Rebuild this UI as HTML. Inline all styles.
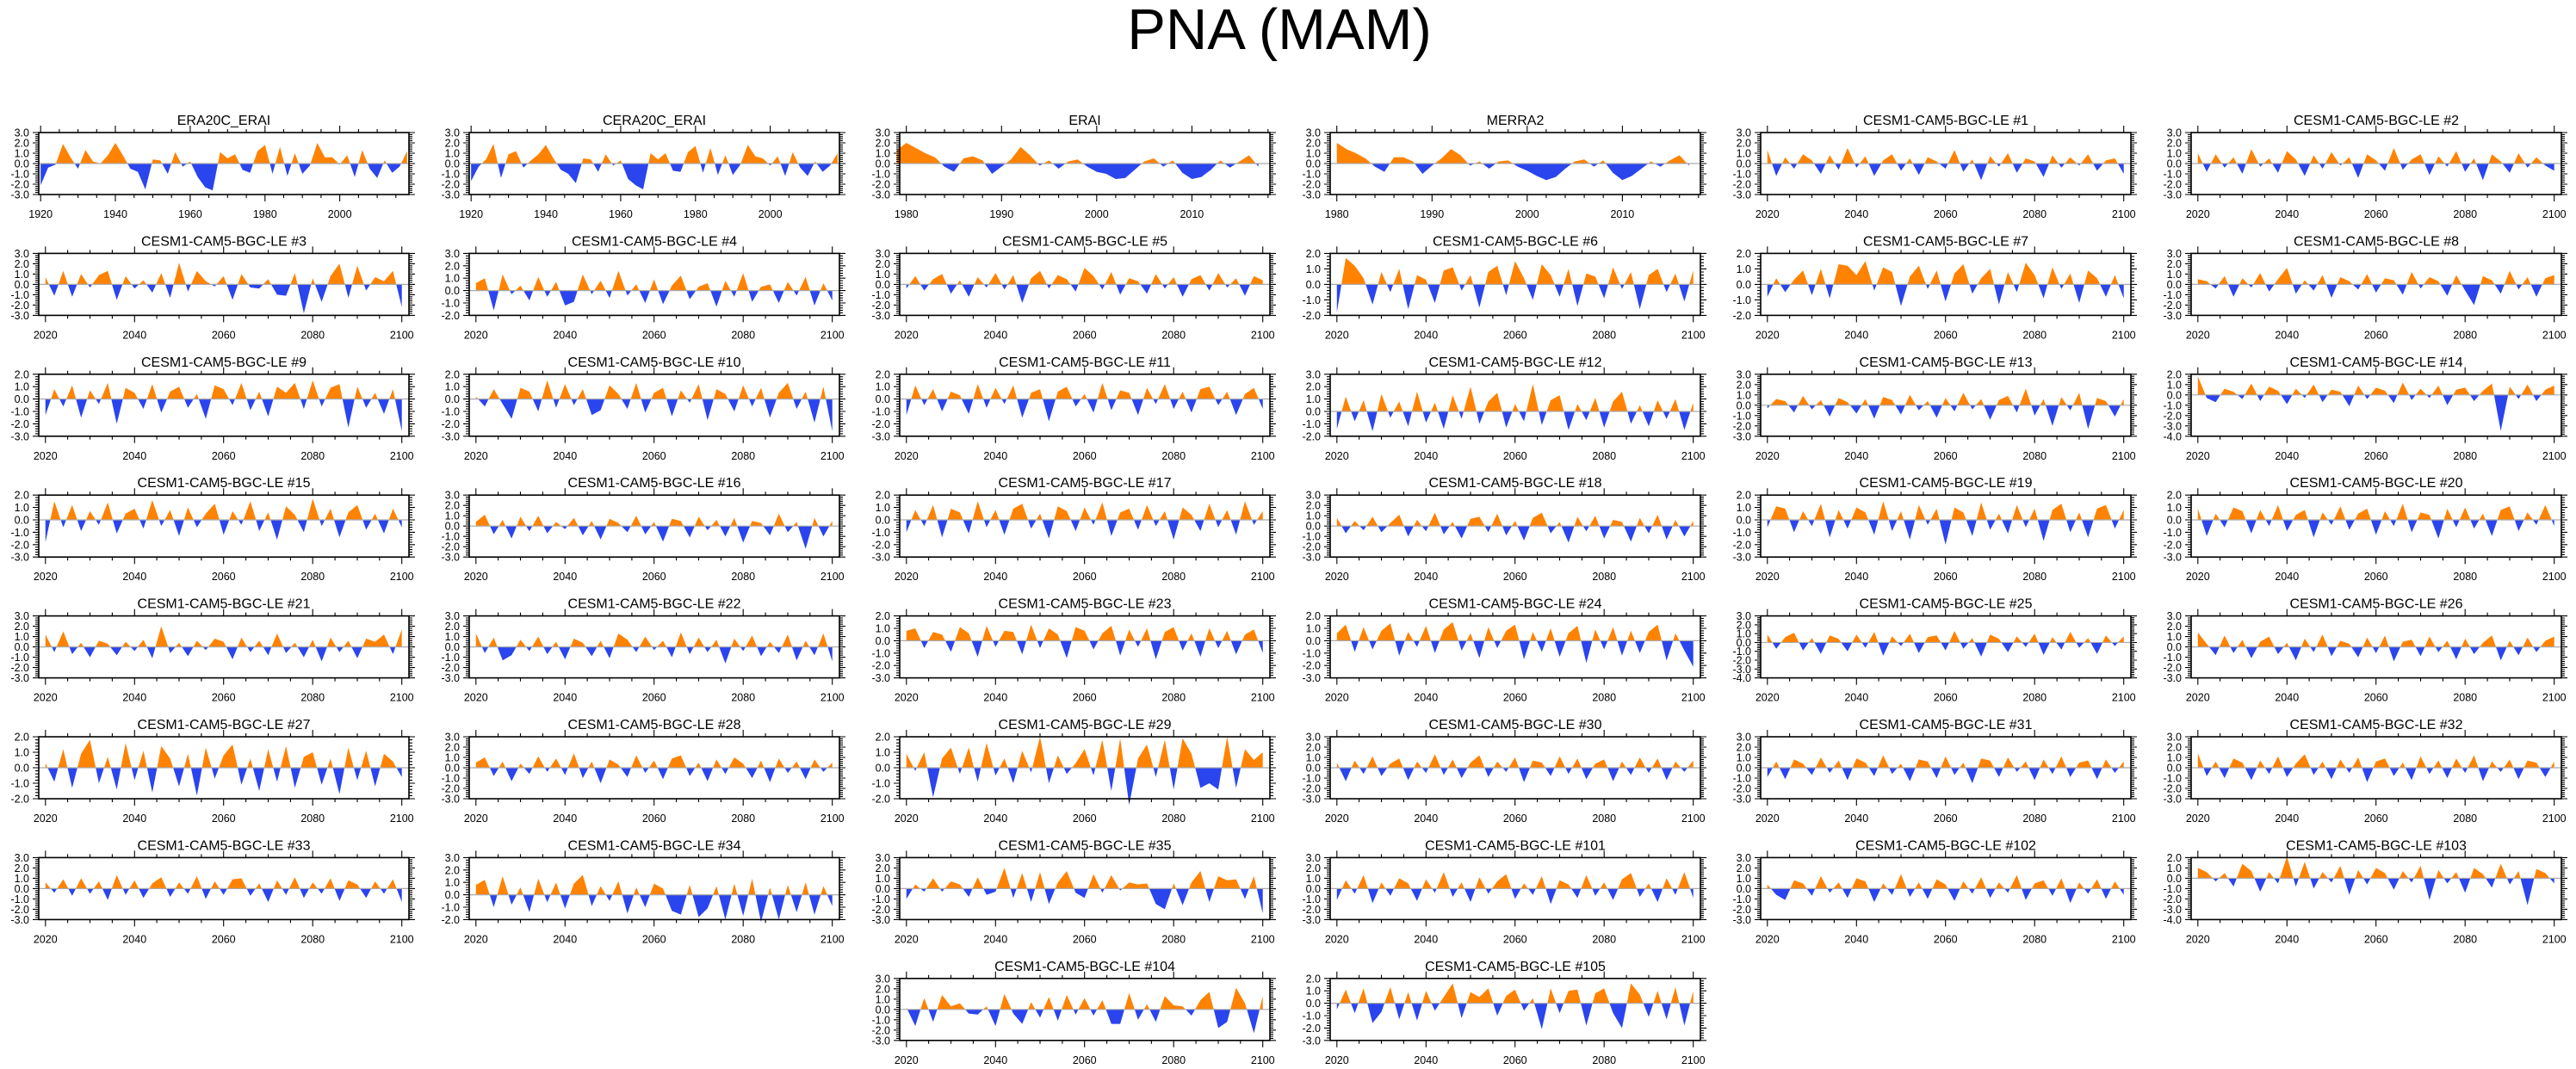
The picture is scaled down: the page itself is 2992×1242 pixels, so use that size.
<!DOCTYPE html>
<html><head><meta charset="utf-8"><title>PNA (MAM)</title>
<style>
html,body{margin:0;padding:0;background:#fff;}
svg{display:block;font-family:"Liberation Sans",Arial,sans-serif;}
</style></head>
<body>
<svg id="chart" width="2992" height="1242" viewBox="0 0 2992 1242" xmlns="http://www.w3.org/2000/svg">
<rect width="2992" height="1242" fill="#fff"/>
<text x="1486" y="57" font-size="67" text-anchor="middle" fill="#000">PNA (MAM)</text>
<g id="panels"></g>
</svg>
<script>
// ---- data ----
const titles = ["ERA20C_ERAI","CERA20C_ERAI","ERAI","MERRA2",
"CESM1-CAM5-BGC-LE #1","CESM1-CAM5-BGC-LE #2","CESM1-CAM5-BGC-LE #3","CESM1-CAM5-BGC-LE #4","CESM1-CAM5-BGC-LE #5","CESM1-CAM5-BGC-LE #6","CESM1-CAM5-BGC-LE #7","CESM1-CAM5-BGC-LE #8",
"CESM1-CAM5-BGC-LE #9","CESM1-CAM5-BGC-LE #10","CESM1-CAM5-BGC-LE #11","CESM1-CAM5-BGC-LE #12","CESM1-CAM5-BGC-LE #13","CESM1-CAM5-BGC-LE #14",
"CESM1-CAM5-BGC-LE #15","CESM1-CAM5-BGC-LE #16","CESM1-CAM5-BGC-LE #17","CESM1-CAM5-BGC-LE #18","CESM1-CAM5-BGC-LE #19","CESM1-CAM5-BGC-LE #20",
"CESM1-CAM5-BGC-LE #21","CESM1-CAM5-BGC-LE #22","CESM1-CAM5-BGC-LE #23","CESM1-CAM5-BGC-LE #24","CESM1-CAM5-BGC-LE #25","CESM1-CAM5-BGC-LE #26",
"CESM1-CAM5-BGC-LE #27","CESM1-CAM5-BGC-LE #28","CESM1-CAM5-BGC-LE #29","CESM1-CAM5-BGC-LE #30","CESM1-CAM5-BGC-LE #31","CESM1-CAM5-BGC-LE #32",
"CESM1-CAM5-BGC-LE #33","CESM1-CAM5-BGC-LE #34","CESM1-CAM5-BGC-LE #35","CESM1-CAM5-BGC-LE #101","CESM1-CAM5-BGC-LE #102","CESM1-CAM5-BGC-LE #103",
"CESM1-CAM5-BGC-LE #104","CESM1-CAM5-BGC-LE #105"];
const yTop = [3,3,3,3,3,3, 3,3,3,2,2,3, 2,2,2,3,3,2, 2,3,2,3,2,2, 3,3,2,2,3,3, 2,3,2,3,3,3, 3,3,3,3,3,2, 3,2];
const yBot = [-3,-3,-3,-3,-3,-3, -3,-2,-3,-2,-2,-3, -3,-3,-3,-2,-3,-4, -3,-3,-3,-3,-3,-3, -3,-3,-3,-3,-4,-3, -2,-3,-2,-3,-3,-3, -3,-2,-3,-3,-3,-4, -3,-3];
const reanStart = [1920,1920,1979,1980];
const reanStep = [2,2,1,1];
const s_era20c = [-2.1,-0.4,-0.1,1.9,0.6,-0.5,1.3,0.2,0.0,0.8,2.0,0.8,-0.5,-0.8,-2.5,0.4,0.3,-1.0,1.1,-0.3,0.2,-1.3,-2.3,-2.6,1.1,0.5,0.9,-0.6,-0.9,1.2,1.8,-1.0,1.6,-1.2,1.0,-1.0,-0.2,2.0,0.6,0.6,-0.1,0.8,-1.3,1.3,-0.5,-1.4,0.3,-0.9,-0.3,1.2];
const s_cera20c = [-1.7,-0.3,0.4,1.9,-1.4,0.9,1.2,-0.4,0.3,0.9,1.8,0.5,-0.6,-1.0,-1.9,0.5,0.4,-0.8,0.9,-0.2,0.3,-1.5,-2.1,-2.5,1.0,0.4,1.0,-0.7,-0.8,1.1,1.7,-0.9,1.5,-1.1,0.8,-1.1,-0.1,1.8,0.7,0.5,-0.2,0.7,-1.2,1.1,-0.4,-1.2,0.2,-0.8,-0.2,1.0];
const s_erai = [1.3,2.0,1.5,1.0,0.6,-0.3,-0.8,0.5,0.7,0.3,-1.0,-0.3,0.4,1.6,0.8,-0.2,0.3,-0.5,0.2,0.4,-0.3,-0.8,-1.0,-1.5,-1.4,-0.6,0.2,0.5,-0.3,0.3,-0.9,-1.5,-1.3,-0.6,0.3,-0.4,0.2,0.8,-0.3];
const s_merra2 = [2.0,1.4,1.0,0.5,-0.3,-0.8,0.6,0.6,0.2,-1.0,-0.2,0.5,1.4,0.8,-0.2,0.2,-0.5,0.2,0.3,-0.3,-0.7,-1.2,-1.6,-1.3,-0.5,0.2,0.4,-0.3,0.3,-0.9,-1.6,-1.2,-0.5,0.2,-0.3,0.3,0.8,-0.2];
const le = [
[1.3,-1.2,0.6,-0.5,0.9,0.3,-1.0,0.8,-0.6,1.5,-0.4,0.7,-1.2,0.3,0.9,-0.7,0.5,-1.1,0.6,0.2,-0.5,1.3,-0.8,0.4,-1.6,0.7,-0.3,1.0,-0.9,0.5,0.2,-1.3,0.8,-0.4,0.6,-0.2,0.9,-0.7,0.3,0.5,-1.0],
[1.0,-0.8,0.9,-0.4,0.6,-1.0,1.4,-0.3,0.5,-0.9,1.2,0.4,-1.2,0.8,-0.5,1.1,-0.2,0.6,-1.4,0.9,0.3,-0.7,1.5,-0.6,0.4,0.9,-1.1,0.7,-0.3,1.2,-0.8,0.5,-1.6,0.9,0.2,-0.9,1.0,-0.4,0.6,-0.2,-0.7],
[0.7,-1.1,1.3,-1.2,1.0,-0.3,0.9,1.3,-1.5,0.8,-0.4,0.4,-0.8,1.1,-1.3,2.1,-0.7,1.3,0.3,-0.2,0.8,-1.5,1.0,-0.3,-0.4,0.5,-1.0,-1.1,1.1,-2.8,0.6,-1.7,0.8,2.0,-1.3,1.8,-0.6,0.7,0.3,1.3,-2.2],
[0.6,1.0,-1.6,1.3,-0.3,0.4,-0.8,1.1,-0.5,0.7,-1.2,-0.9,1.3,-0.3,0.8,-0.6,1.6,-0.4,0.5,-1.0,0.9,-1.1,0.4,1.2,-0.7,0.3,0.6,-1.3,0.8,-0.5,1.4,-0.9,0.3,0.5,-1.0,0.7,-0.4,1.1,-1.2,0.6,-0.8],
[-0.4,0.8,-0.6,0.5,1.0,-0.9,0.4,-1.2,0.7,-0.3,1.1,-0.5,0.9,-1.8,0.6,1.3,-0.4,0.9,0.5,-0.7,1.6,0.8,-0.5,1.2,-1.0,0.6,0.3,-0.9,1.0,-0.4,0.7,-1.2,0.5,0.9,-0.6,1.1,-0.3,0.6,-1.1,0.8,0.4],
[-1.8,1.7,1.2,0.4,-1.3,0.8,-0.5,1.0,-1.6,0.6,0.3,-1.2,0.9,1.1,-0.4,0.6,-1.5,0.8,1.2,-0.7,1.5,0.4,-1.0,1.3,0.6,-0.8,1.0,-1.4,0.7,0.5,-0.9,1.1,-0.3,0.8,-1.6,0.6,1.0,-0.5,0.7,-1.1,0.9],
[-0.8,0.4,-0.5,0.3,0.9,-0.7,1.0,-0.9,1.3,1.2,0.6,1.5,-0.4,1.1,0.8,-1.4,0.5,1.2,-0.3,0.9,-1.1,0.7,1.3,-0.6,0.4,1.0,-1.3,0.8,-0.5,1.4,0.6,-0.9,1.1,-0.3,0.7,-1.2,0.9,0.4,-0.8,0.6,-0.9],
[0.5,0.3,-0.4,0.8,-1.2,0.6,-0.3,1.1,-0.7,0.5,1.6,-0.9,0.4,-0.6,0.9,-1.3,0.7,0.3,-0.5,1.0,-0.8,0.6,0.4,-1.0,1.2,-0.4,0.7,0.3,-1.1,0.9,-0.6,-2.0,0.8,0.4,-0.9,1.3,-0.5,0.7,-1.2,0.6,0.9],
[-1.3,0.8,-0.6,1.1,-1.5,0.7,-0.4,1.3,-2.0,0.9,0.5,-0.8,1.2,-1.1,0.6,1.0,-0.7,0.4,-1.6,1.1,0.8,-0.5,1.3,-0.9,0.6,-1.4,1.0,0.5,1.3,-0.8,1.5,-0.6,0.9,1.2,-2.3,1.0,-0.7,0.5,-1.2,0.8,-2.6],
[0.2,-0.6,0.8,-0.4,-1.6,0.9,0.6,-1.0,1.5,-0.7,1.2,-0.5,0.8,-1.3,-0.9,1.1,0.4,-0.8,1.3,-1.1,0.5,0.9,-1.4,0.7,-0.3,1.2,-1.7,0.8,0.4,-1.0,1.1,-0.6,0.9,-1.5,0.5,1.3,-0.8,0.6,-1.9,1.0,-2.6],
[-1.3,1.1,-0.5,0.8,-1.0,0.6,0.3,-1.2,1.2,-0.7,0.9,-0.4,1.1,-1.5,0.5,0.8,-1.8,0.6,1.0,-0.6,0.4,-1.1,1.3,-0.9,0.7,0.5,-1.3,0.9,-0.4,1.2,-0.8,0.6,-1.1,0.8,1.0,-0.5,0.6,-1.3,0.4,0.9,-0.8],
[-1.4,1.2,-0.8,0.9,-1.6,1.4,-0.5,0.8,-1.2,1.6,-0.9,0.7,-1.4,1.3,-0.6,2.0,-1.0,0.8,1.5,-1.3,0.6,-0.8,2.2,-1.1,0.9,1.3,-1.5,0.6,-0.7,1.1,-1.3,0.8,1.6,-1.0,0.5,-1.2,0.9,-0.6,1.0,-1.5,0.7],
[-0.3,0.6,0.4,-0.7,0.9,-0.4,0.5,-1.1,0.7,0.3,-0.8,0.6,-1.3,0.8,0.5,-0.9,1.0,-0.5,0.4,-1.2,0.7,-0.6,1.2,-0.4,0.6,-1.4,0.5,0.9,-0.7,1.6,-1.0,0.6,-2.0,0.8,-0.5,1.2,-2.3,0.7,0.4,-1.1,0.6],
[1.8,-0.3,-0.7,0.6,0.3,-0.4,1.1,-0.6,0.8,0.4,-0.9,0.6,-0.3,1.0,-0.7,0.5,0.3,-1.1,0.9,-0.4,0.7,0.4,-0.8,1.2,-0.5,0.6,-0.3,0.9,-1.0,0.5,0.7,-0.6,0.4,1.1,-3.5,0.8,-0.4,1.0,-0.6,0.5,0.9],
[-1.8,1.5,-0.6,1.2,-0.9,0.7,-0.4,1.4,-1.1,0.5,0.9,-0.7,1.6,-0.5,0.8,-1.3,1.0,-0.6,0.5,1.3,-1.2,0.7,-0.4,1.5,-0.9,0.6,-1.6,1.1,0.4,-1.0,1.7,-0.5,0.9,-1.4,0.6,1.2,-0.8,0.5,-1.1,0.9,-0.6],
[0.4,1.1,-0.8,0.6,-1.2,0.9,-0.5,1.0,-0.7,0.4,-0.3,0.8,-0.9,0.5,-1.3,0.7,0.3,-0.6,1.0,-0.8,0.4,-1.5,0.7,0.5,-1.1,0.9,-0.4,0.6,-1.0,0.8,-1.6,0.5,0.3,-0.9,1.2,-0.6,0.4,-2.2,0.8,-1.0,0.5],
[-1.0,0.8,-0.5,1.2,-1.4,0.9,0.6,-1.1,1.5,-0.6,0.8,-1.2,0.9,1.3,-0.7,0.5,-1.5,1.1,0.7,-0.9,1.0,-0.4,1.4,-1.3,0.6,0.9,-0.8,1.2,-0.5,0.7,-1.6,1.0,0.4,-0.9,1.3,-0.6,0.8,-1.2,1.5,-0.4,0.7],
[0.8,-0.7,0.5,-0.4,0.9,-0.6,0.3,1.1,-1.0,0.6,-0.5,1.3,-0.8,0.4,-1.2,0.7,0.9,-0.6,1.2,-0.9,0.5,-1.4,0.8,1.3,-0.7,0.4,-1.6,0.9,-0.5,1.0,-1.2,0.6,0.4,-1.5,0.8,-0.7,1.1,-1.3,0.6,-1.0,0.5],
[-0.6,1.1,0.9,-1.0,0.7,-0.5,1.3,-1.4,0.8,-0.7,1.0,0.6,-1.2,1.5,-0.9,0.7,-1.6,1.2,-0.4,0.9,-2.0,1.0,0.6,-1.3,1.4,-0.8,0.5,-1.1,1.2,-0.6,0.9,-1.7,0.8,1.3,-1.0,0.6,-1.4,0.9,1.2,-0.7,0.8],
[0.9,-1.3,0.5,-0.6,1.0,0.7,-1.1,0.8,-0.5,1.2,-0.9,0.4,0.8,-1.4,0.6,-0.4,1.1,-0.8,0.5,0.9,-1.2,0.7,-0.5,1.3,-1.0,0.6,0.4,-1.5,0.9,-0.6,1.0,-0.7,0.5,-1.3,0.8,1.1,-0.9,0.6,-0.4,1.2,-0.5],
[1.2,-0.5,1.5,-0.7,0.4,-1.0,0.6,0.3,-0.8,0.5,-0.4,0.7,-1.1,2.0,-0.6,0.4,-0.9,0.6,-0.3,0.8,0.5,-1.2,0.9,-0.5,0.6,-0.8,1.3,-0.6,0.4,-1.0,0.7,-1.4,0.9,-0.5,0.6,-1.1,0.8,0.5,1.2,-0.7,1.7],
[1.3,-0.6,0.9,-1.3,-0.8,0.7,-0.4,1.0,-0.7,0.5,-1.2,0.8,0.4,-0.9,0.6,-1.1,1.3,0.7,-0.5,1.0,-0.3,0.6,-1.0,1.4,-0.7,0.9,-0.5,0.7,-1.6,0.8,-0.4,1.1,-0.9,0.5,-0.6,1.2,-1.3,0.6,-0.8,1.3,-1.4],
[0.8,1.0,-0.6,0.7,0.5,-0.9,1.1,0.6,-1.3,1.2,-0.5,0.8,0.7,-1.1,1.3,-0.6,1.0,0.5,-1.4,1.1,0.8,-0.7,0.6,1.2,-1.2,0.9,-0.5,1.0,-1.5,0.7,1.1,-0.8,0.6,-1.3,1.0,-0.6,0.8,-1.1,0.5,0.9,-1.0],
[0.6,1.3,-0.9,1.1,-0.7,0.8,1.4,-1.2,0.7,-0.5,1.2,-1.0,0.9,1.5,-0.8,0.6,-1.4,1.1,-0.6,0.8,1.3,-1.5,0.7,-0.9,1.0,-1.3,0.6,1.2,-1.8,0.9,-0.7,1.1,-1.2,0.8,-1.0,0.7,1.3,-1.6,0.6,-0.8,-2.1],
[0.9,-0.7,0.6,1.1,-0.9,0.5,-1.3,0.8,0.4,-1.0,0.9,-0.6,1.2,-1.5,0.7,-0.4,1.0,-1.2,0.6,0.8,-0.9,1.3,-0.7,0.5,-1.6,0.9,0.4,-1.1,0.7,-0.5,1.0,-1.4,0.6,-0.8,1.2,-0.6,0.5,-1.3,0.8,-0.4,0.7],
[1.4,0.3,-0.8,1.1,-0.6,0.7,-1.1,0.5,1.0,-0.7,0.4,-1.3,0.8,-0.5,1.2,-0.9,0.6,0.3,-1.0,0.9,-0.6,1.1,-1.4,0.5,0.7,-0.9,1.0,-0.5,0.6,-1.2,0.8,-0.7,0.4,1.1,-1.3,0.6,-0.8,0.9,-0.5,0.6,1.0],
[0.3,-0.9,1.2,-1.3,0.9,1.8,-1.0,0.7,-1.4,1.6,-0.8,1.1,-1.6,1.4,0.6,-1.2,0.9,-1.8,1.3,-0.7,0.8,1.5,-1.1,0.6,-1.5,1.2,-0.9,1.4,-1.3,0.7,1.0,-1.1,0.6,-1.7,1.3,-0.8,1.1,-1.2,0.9,0.4,-0.6],
[0.5,1.0,-0.8,0.6,-1.3,0.4,-0.6,1.1,-0.4,0.9,-0.7,1.4,-1.0,0.6,-1.5,0.8,0.3,-0.9,1.2,-0.5,0.7,-1.1,0.9,1.2,-0.8,0.5,-1.3,0.8,-0.6,1.0,0.4,-1.0,0.7,-1.4,0.9,-0.5,0.6,-1.1,0.8,-0.4,0.5],
[0.9,-0.2,1.0,-1.9,0.6,1.3,-0.4,1.3,-0.9,1.6,-0.5,0.6,-1.0,1.1,-0.3,2.0,-1.0,0.8,-0.4,0.3,1.2,-0.5,1.8,-1.5,1.9,-2.4,0.6,1.5,-0.6,1.8,-1.4,1.9,0.9,-1.3,-1.0,-1.4,2.0,-1.3,1.2,0.5,1.0],
[0.5,-1.3,0.7,-0.6,1.1,-0.8,0.4,0.9,-1.2,0.6,-0.5,1.3,-0.7,0.8,-1.0,0.5,1.2,-0.9,0.6,-0.4,1.0,-1.4,0.7,0.5,-0.8,1.1,-0.6,0.9,-1.1,0.4,0.8,-1.3,0.6,-0.7,1.0,-0.5,0.9,-1.2,0.6,-0.4,0.7],
[-0.9,0.6,-1.1,0.8,0.4,-0.7,1.0,-0.5,0.7,-1.2,0.9,0.5,-0.8,1.2,-0.6,0.4,-1.3,0.8,0.6,-1.0,1.1,-0.7,0.5,-1.5,0.9,0.7,-0.9,1.0,-0.4,0.6,-1.2,0.8,-0.6,1.1,-0.9,0.5,0.7,-1.1,0.8,-0.5,0.6],
[1.4,-0.8,0.6,-1.0,0.9,0.5,-1.2,0.7,-0.6,1.1,-0.9,0.4,1.3,-0.7,0.6,-1.1,0.8,-0.5,1.0,-1.4,0.6,0.9,-0.8,0.5,-1.2,1.1,-0.6,0.7,-1.0,0.9,-0.5,1.2,-1.3,0.6,-0.4,0.8,-1.1,0.7,0.5,-0.9,0.6],
[0.6,-0.4,0.9,-0.7,1.0,-0.5,0.7,-1.1,1.3,-0.6,0.8,-0.9,0.5,1.1,-0.8,0.6,-0.5,1.2,-1.0,0.7,-0.6,0.9,1.0,-0.7,0.5,-1.3,0.8,-0.6,1.1,-0.9,0.6,-0.5,1.0,-1.2,0.8,0.4,-0.9,0.7,-0.5,0.9,-1.3],
[0.8,1.2,-1.0,1.5,-0.8,0.6,-1.4,1.3,-0.6,1.0,-1.1,0.9,1.6,-0.9,0.7,-0.5,1.1,-1.5,0.6,-1.0,0.9,0.5,-1.3,-1.6,0.8,-1.8,-1.1,0.7,-2.0,0.9,-1.7,1.3,-2.2,0.6,-2.0,0.8,-1.4,1.0,-1.6,0.7,-0.9],
[-1.0,0.4,-0.3,1.0,-0.3,0.7,0.4,-0.8,1.1,-0.6,-0.3,2.0,-0.9,1.5,-1.3,1.6,-1.5,0.6,1.7,-0.4,-0.9,1.4,-0.4,1.3,-0.2,0.6,0.4,0.5,-1.5,-2.0,0.5,-1.6,0.6,1.7,-1.3,1.2,0.8,0.9,-1.0,1.2,-2.4],
[-1.1,0.8,-0.5,1.3,-1.4,0.6,-0.7,1.0,0.5,-1.2,0.9,-0.4,1.6,-0.8,0.6,-1.3,1.1,-0.5,0.7,1.4,-1.0,0.5,-0.6,1.2,-1.5,0.8,0.4,-0.9,1.3,-0.7,0.6,-1.1,0.9,1.5,-0.8,0.5,-1.3,1.0,-0.6,1.6,-0.9],
[0.4,-0.6,-1.1,0.8,0.5,-0.7,1.2,-0.4,0.6,-0.9,1.0,0.7,-1.3,0.5,-0.6,1.4,-0.8,0.6,-1.0,0.9,0.4,-1.2,0.7,-0.5,1.1,-0.9,0.6,-0.4,1.3,-1.1,0.5,0.8,-0.7,1.0,-1.4,0.6,-0.5,0.9,-1.0,0.7,-0.6],
[1.0,0.6,-0.3,0.5,-0.8,1.4,0.7,-1.3,0.6,-0.5,2.1,-0.8,1.6,-1.0,0.6,-0.4,1.2,-1.6,0.8,-0.6,1.0,0.5,-1.1,0.7,-0.4,1.2,-2.1,0.8,-0.5,0.6,-1.4,1.0,0.4,-0.9,1.4,-0.6,0.7,-2.6,0.9,0.5,-0.5],
[0.2,-1.6,1.1,-1.2,1.4,0.3,0.6,-0.4,-0.5,0.3,-1.6,1.5,-0.4,-1.4,0.7,-0.8,1.2,-1.1,1.4,-0.5,1.1,-0.6,0.9,-1.4,-1.4,1.6,-1.0,0.5,-1.2,1.3,0.4,0.3,-0.6,0.9,1.7,-1.8,-1.2,2.1,0.6,-2.3,1.3],
[-0.5,1.1,-0.8,1.2,-1.6,-0.7,1.3,-1.3,0.9,-1.4,1.0,-0.6,0.5,1.6,-1.2,0.9,0.5,1.2,-1.0,0.6,1.1,-0.6,0.4,-2.1,1.2,-0.8,1.0,1.1,-1.8,0.8,1.2,-0.8,-2.0,1.6,0.7,-1.1,1.0,-1.3,1.3,-1.8,1.0]
];
const leStart = 2020, leStep = 2;
// ---- layout ----
const colX0 = 45, colPitch = 500, pw = 430;
const rowY0 = 154, rowPitch = 140.4, ph = 72;
const ORANGE = "#ff8200", BLUE = "#2a44ee";
const NS = "http://www.w3.org/2000/svg";
const root = document.getElementById("panels");
function el(tag, attrs, parent){const e=document.createElementNS(NS,tag);for(const k in attrs)e.setAttribute(k,attrs[k]);(parent||root).appendChild(e);return e;}

function seriesFor(i){
  if(i===0) return {v:s_era20c,start:reanStart[0],step:reanStep[0]};
  if(i===1) return {v:s_cera20c,start:reanStart[1],step:reanStep[1]};
  if(i===2) return {v:s_erai,start:reanStart[2],step:reanStep[2]};
  if(i===3) return {v:s_merra2,start:reanStart[3],step:reanStep[3]};
  return {v:le[i-4],start:leStart,step:leStep};
}
function cellFor(i){
  if(i<42) return {c:i%6,r:Math.floor(i/6)};
  return {c:i-40,r:7};
}
function domainFor(i){
  if(i<2) return {x0:1919.5,x1:2018.5,major:20,minor:5,first:1920,last:2000};
  if(i<4) return {x0:1979.3,x1:2018.2,major:10,minor:2,first:1980,last:2010};
  return {x0:2018.5,x1:2101.6,major:20,minor:5,first:2020,last:2100};
}

for(let i=0;i<titles.length;i++){
  const cell=cellFor(i), L=colX0+cell.c*colPitch, T=rowY0+cell.r*rowPitch, R=L+pw, B=T+ph;
  const d=domainFor(i), s=seriesFor(i);
  const yt=yTop[i], yb=yBot[i];
  const X=v=>L+(v-d.x0)/(d.x1-d.x0)*pw;
  const Y=v=>T+(yt-v)/(yt-yb)*ph;
  const g=el("g",{});
  
  
  const t=el("text",{x:(L+R)/2,y:T-9,"font-size":16,"text-anchor":"middle",fill:"#000"},g);
  
  
  t.textContent=titles[i];
  // build points with zero crossings
  const pts=[];
  for(let k=0;k<s.v.length;k++){
    const yr=s.start+k*s.step, v=s.v[k];
    if(k>0){const pv=s.v[k-1];if(pv*v<0){const f=pv/(pv-v);pts.push([yr-s.step+f*s.step,0]);}}
    pts.push([yr,v]);
  }
  const y0=Y(0), xa=X(pts[0][0]), xb=X(pts[pts.length-1][0]);
  let pos="M"+xa+","+y0, neg="M"+xa+","+y0;
  pts.forEach(p=>{const px=X(p[0]);pos+=" L"+px.toFixed(1)+","+Y(Math.max(p[1],0)).toFixed(1);neg+=" L"+px.toFixed(1)+","+Y(Math.min(p[1],0)).toFixed(1);});
  pos+=" L"+xb+","+y0+"Z"; neg+=" L"+xb+","+y0+"Z";
  const pp=el("path",{d:pos,fill:ORANGE},g);
  
  
  const np=el("path",{d:neg,fill:BLUE},g);
  
  
  const zl=el("line",{x1:L,x2:R,y1:y0,y2:y0,stroke:"#aaa","stroke-width":1.2},g);
  
  
  const fr=el("rect",{x:L,y:T,width:pw,height:ph,fill:"none",stroke:"#000","stroke-width":1.6},g);
  
  
  // y ticks
  let tk="";
  for(let v=yb;v<=yt+1e-6;v+=0.2){
    const yy=Y(v).toFixed(1), maj=Math.abs(v-Math.round(v))<1e-6, len=maj?7:4;
    tk+="M"+(L-len)+","+yy+"H"+L+"M"+R+","+yy+"H"+(R+len);
  }
  // x ticks
  for(let yr=Math.ceil(d.x0/d.minor)*d.minor;yr<=d.x1;yr+=d.minor){
    const xx=X(yr).toFixed(1), maj=yr%d.major===0, len=maj?8:4;
    tk+="M"+xx+","+(T-len)+"V"+T+"M"+xx+","+B+"V"+(B+len);
  }
  const tp=el("path",{d:tk,stroke:"#000","stroke-width":1.1,fill:"none"},g);
  
  
  for(let v=yb;v<=yt;v++){
    const lt=el("text",{x:L-11,y:Y(v)+4.5,"font-size":12.5,"text-anchor":"end",fill:"#000"},g);
    
    
    lt.textContent=v.toFixed(1);
  }
  for(let yr=d.first;yr<=d.last;yr+=d.major){
    const xt=el("text",{x:X(yr),y:B+27,"font-size":12.5,"text-anchor":"middle",fill:"#000"},g);
    
    
    xt.textContent=yr;
  }
}
</script>
</body></html>
